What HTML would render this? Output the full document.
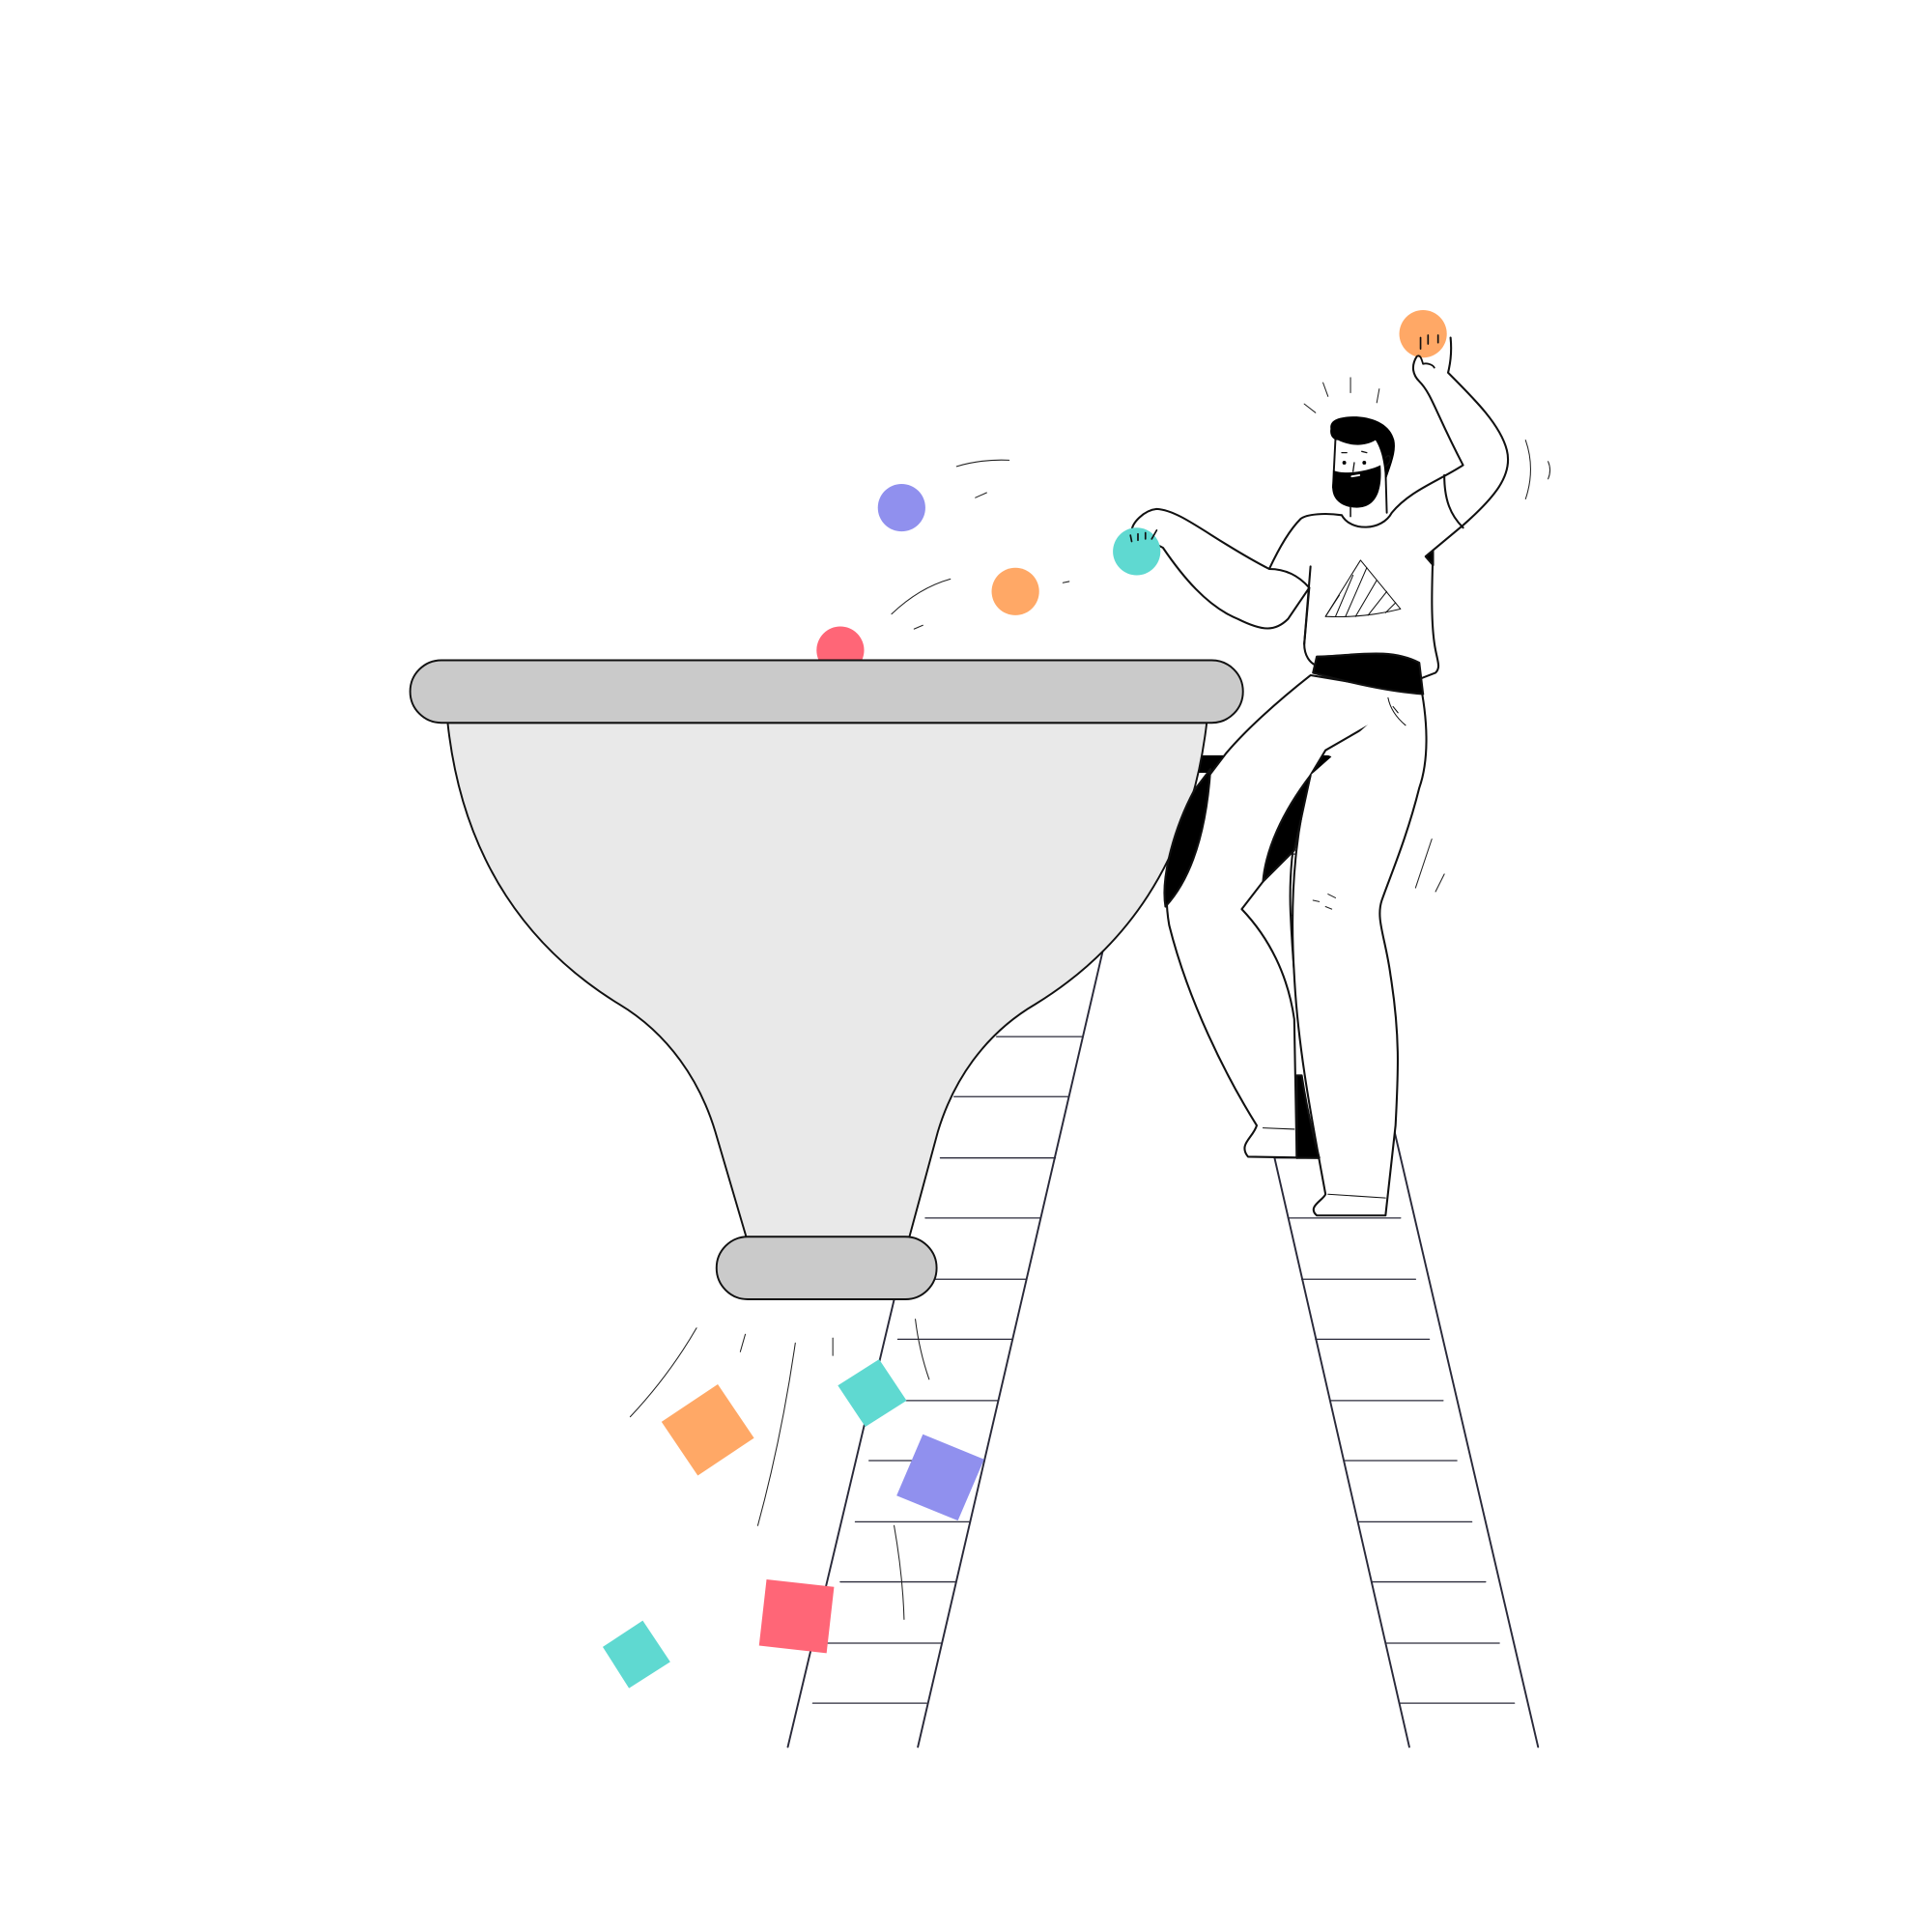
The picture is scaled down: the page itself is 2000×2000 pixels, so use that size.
<!DOCTYPE html>
<html><head><meta charset="utf-8"><style>html,body{margin:0;padding:0;background:#fff}svg{display:block}</style></head>
<body>
<svg width="2000" height="2000" viewBox="0 0 1545 1545" xmlns="http://www.w3.org/2000/svg" fill="none" stroke="#111" stroke-linecap="round" stroke-linejoin="round">
<g stroke="#2a2a3a" stroke-width="1.5">
<line x1="952" y1="632" x2="1127" y2="1397"/>
<line x1="1048" y1="617" x2="1230" y2="1397"/>
<g stroke-width="1">
<line x1="953" y1="635" x2="1040" y2="635"/>
<line x1="964" y1="683" x2="1052" y2="683"/>
<line x1="975" y1="732" x2="1064" y2="732"/>
<line x1="986" y1="780" x2="1075" y2="780"/>
<line x1="997" y1="829" x2="1086" y2="829"/>
<line x1="1008" y1="877" x2="1098" y2="877"/>
<line x1="1019" y1="926" x2="1109" y2="926"/>
<line x1="1030" y1="974" x2="1120" y2="974"/>
<line x1="1041" y1="1023" x2="1132" y2="1023"/>
<line x1="1052" y1="1071" x2="1143" y2="1071"/>
<line x1="1064" y1="1120" x2="1154" y2="1120"/>
<line x1="1075" y1="1168" x2="1165" y2="1168"/>
<line x1="1086" y1="1217" x2="1177" y2="1217"/>
<line x1="1097" y1="1265" x2="1188" y2="1265"/>
<line x1="1108" y1="1314" x2="1199" y2="1314"/>
<line x1="1119" y1="1362" x2="1211" y2="1362"/>
</g></g>
<g stroke="#2a2a3a" stroke-width="1.5">
<line x1="630" y1="1397" x2="765" y2="829"/>
<line x1="734" y1="1397" x2="882" y2="760"/>
<g stroke-width="1">
<line x1="797" y1="829" x2="866" y2="829"/>
<line x1="763" y1="877" x2="855" y2="877"/>
<line x1="752" y1="926" x2="844" y2="926"/>
<line x1="740" y1="974" x2="832" y2="974"/>
<line x1="720" y1="1023" x2="821" y2="1023"/>
<line x1="718" y1="1071" x2="810" y2="1071"/>
<line x1="706" y1="1120" x2="798" y2="1120"/>
<line x1="695" y1="1168" x2="787" y2="1168"/>
<line x1="684" y1="1217" x2="776" y2="1217"/>
<line x1="672" y1="1265" x2="764" y2="1265"/>
<line x1="661" y1="1314" x2="753" y2="1314"/>
<line x1="650" y1="1362" x2="741" y2="1362"/>
</g></g>
<line x1="958" y1="611" x2="1061" y2="611" stroke="#000" stroke-width="14"/>
<circle cx="672" cy="520" r="19" fill="#ff6677" stroke="none"/>
<path d="M358 578 C370 690 425 760 495 803 C535 827 560 865 572 905 L597 990 L727 990 L750 905 C762 865 787 827 828 803 C898 760 952 690 965 578 Z" fill="#e9e9e9" stroke-width="1.5"/>
<rect x="328" y="528" width="666" height="50" rx="25" fill="#cacaca" stroke-width="1.5"/>
<rect x="573" y="989" width="176" height="50" rx="25" fill="#cacaca" stroke-width="1.5"/>
<!-- legs -->
<g stroke-width="1.6">
<path d="M1048 540 C1020 562 995 585 980 603 L958 632 C940 660 928 700 935 740 C950 800 980 860 1005 900 C1002 910 990 915 998 925 L1055 926 C1045 870 1035 800 1032 730 C1030 680 1040 640 1048 620 L1060 600 L1138 555 Z" fill="#fff"/>
<path d="M1135 543 C1143 580 1142 610 1135 630 C1125 670 1112 700 1105 720 C1100 735 1108 750 1112 780 C1120 830 1118 860 1116 900 L1108 972 L1053 972 C1045 965 1058 960 1060 955 C1050 900 1038 840 1035 780 C1030 700 1040 650 1048 620" fill="#fff"/>
<path d="M1048 620 C1025 650 1012 680 1010 705 L1035 680 Z" fill="#000"/>
<path d="M1010 705 L993 727 C1015 750 1030 780 1035 815 L1037 926" />
<path d="M968 615 C965 660 955 700 932 725 C928 700 940 660 955 632 Z" fill="#000"/>
<path d="M1037 860 L1037 926 L1055 926 C1048 900 1044 880 1041 860 Z" fill="#000"/>
<path d="M1010 902 L1035 903 M1062 955 L1108 958" stroke-width="0.8"/>
</g>
<!-- shirt -->
<g stroke-width="1.6">
<path d="M1073 412 C1060 410 1045 411 1040 415 C1030 425 1022 440 1015 455 L1047 470 L1043 515 C1043 525 1048 530 1052 532 L1135 532 L1148 538 C1152 534 1150 530 1148 520 C1144 500 1145 470 1146 445 L1170 420 C1195 398 1210 380 1205 360 C1200 340 1180 320 1158 298 C1160 290 1161 280 1160 270 L1133 285 C1128 293 1130 300 1135 305 C1145 315 1148 330 1170 372 C1150 385 1128 392 1113 410 C1105 425 1080 425 1073 412 Z" fill="#fff" stroke="none"/>
<path d="M1133 285 C1128 293 1130 300 1135 305 C1145 315 1148 330 1170 372 C1150 385 1128 392 1113 410 C1105 425 1080 425 1073 412 C1060 410 1045 411 1040 415 C1030 425 1022 440 1015 455"/>
<path d="M1160 270 C1161 280 1160 290 1158 298 C1180 320 1200 340 1205 360 C1210 380 1195 398 1170 420 L1146 440 C1145 470 1144 500 1148 520 C1150 530 1152 534 1148 538 L1135 543"/>
<path d="M1047 470 L1043 515 C1043 525 1048 530 1052 532"/>
<path d="M1155 380 C1155 400 1160 412 1170 422"/>
<path d="M1015 455 C970 432 945 408 925 407 C915 408 905 418 905 425 L930 438 C945 460 965 485 990 495 C1010 505 1020 505 1030 495 L1047 470 C1040 462 1030 455 1015 455 Z" fill="#fff"/>
<path d="M1048 453 L1043 515"/>
<path d="M1053 525 C1080 525 1110 517 1135 530 L1138 555 C1110 553 1080 546 1050 538 Z" fill="#000"/>
<path d="M1140 445 L1146 440 L1146 452 Z" fill="#000"/>
<path d="M1088 448 L1060 493 C1080 494 1100 492 1120 487 Z" stroke-width="0.8"/>
<path d="M1071 476 L1060 493 M1082 460 L1068 493 M1093 454 L1076 493 M1101 464 L1084 493 M1109 473 L1094 492 M1116 482 L1108 490" stroke-width="0.8"/>
<path d="M1110 558 C1112 568 1118 575 1124 580 M1114 565 L1118 570" stroke-width="0.8"/>
</g>
<!-- head -->
<g>
<path d="M1068 348 L1066 392 L1080 412 L1108 410 L1108 370 L1104 348 Z" fill="#fff" stroke="none"/>
<path d="M1068 350 L1066 390 M1108 375 L1109 410" stroke-width="1.5"/>
<path d="M1064 343 C1063 336 1070 333 1085 333 C1100 334 1112 340 1115 352 C1117 362 1112 372 1108 385 C1107 370 1105 360 1100 352 C1090 358 1078 356 1070 352 C1066 352 1063 348 1064 343 Z" fill="#000" stroke="none"/>
<path d="M1066 376 C1075 380 1094 377 1104 372 C1106 396 1098 406 1085 406 C1072 406 1063 398 1066 385 Z" fill="#000" stroke="none"/>
<circle cx="1075" cy="370" r="1.5" fill="#000" stroke="none"/><circle cx="1091" cy="370" r="1.5" fill="#000" stroke="none"/>
<path d="M1073 362 L1077 362 M1089 361 L1093 362 M1083 370 L1082 377" stroke-width="1"/>
<path d="M1081 381 L1087 380" stroke="#fff" stroke-width="1.5"/>
<path d="M1108 366 C1112 361 1114 369 1108 373" stroke-width="1"/>
<path d="M1080 405 L1080 413" stroke-width="1.2"/>
</g>
<circle cx="721" cy="406" r="19" fill="#9090ee" stroke="none"/>
<circle cx="812" cy="473" r="19" fill="#ffa866" stroke="none"/>
<circle cx="909" cy="441" r="19" fill="#5fd9d1" stroke="none"/>
<circle cx="1138" cy="267" r="19" fill="#ffa866" stroke="none"/>
<g stroke-width="1.3"><path d="M905 433 L904 428 M910 432 L910 427 M916 431 L916 426 M921 431 L925 424"/>
<path d="M1136 279 L1136 270 M1142 275 L1142 268 M1150 274 L1150 268"/>
<path d="M1133 285 C1136 283 1137 288 1138 291 C1142 290 1146 292 1147 294" stroke-width="1.4"/></g>
<polygon points="529,1137 574,1107 603,1150 558,1180" fill="#ffa866" stroke="none"/>
<polygon points="670,1108 703,1087 725,1120 692,1141" fill="#5fd9d1" stroke="none"/>
<polygon points="738,1147 787,1167 766,1216 717,1196" fill="#9090ee" stroke="none"/>
<polygon points="613,1263 667,1269 661,1322 607,1316" fill="#ff6677" stroke="none"/>
<polygon points="482,1317 514,1296 536,1329 503,1350" fill="#5fd9d1" stroke="none"/>
<g stroke-width="0.8" stroke="#222">
<path d="M765 373 Q785 367 807 368"/><path d="M780 398 L789 394"/>
<path d="M713 491 Q735 470 760 463"/><path d="M731 503 L738 500"/><path d="M850 466 L855 465"/>
<path d="M504 1133 Q535 1100 557 1062"/><path d="M592 1081 L596 1067"/>
<path d="M606 1220 Q625 1150 636 1074"/><path d="M666 1070 L666 1084"/>
<path d="M732 1055 Q735 1080 743 1103"/><path d="M715 1220 Q722 1260 723 1295"/>
<path d="M1043 323 L1052 330"/><path d="M1058 306 L1062 317"/><path d="M1080 302 L1080 314"/><path d="M1103 311 L1101 322"/>
<path d="M1220 352 Q1228 375 1220 399"/><path d="M1238 369 Q1241 376 1238 383"/>
<path d="M1145 671 L1132 710"/><path d="M1155 699 L1148 713"/>
<path d="M1050 720 L1055 721 M1062 715 L1068 718 M1060 725 L1065 727"/>
</g>
</svg>
</body></html>
